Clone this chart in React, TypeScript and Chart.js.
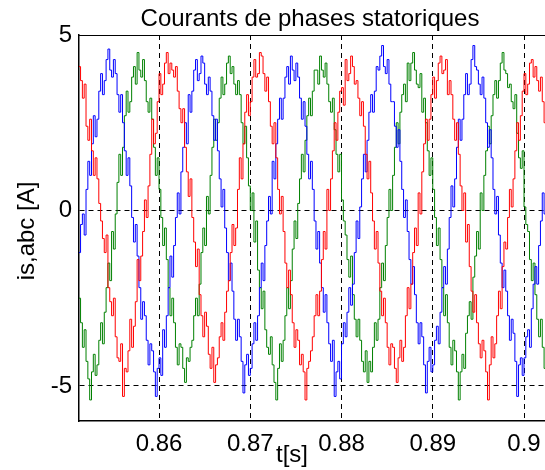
import { useEffect, useRef } from "react";
import { Chart, registerables } from "chart.js";

Chart.register(...registerables);

const TITLE = "Courants de phases statoriques";
const X_LABEL = "t[s]";
const Y_LABEL = "is,abc [A]";

const T_START = 0.8512;
const T_STEP = 0.0002;
const X_MIN = 0.85123;
const X_MAX = 0.9023;
const Y_MIN = -6;
const Y_MAX = 5;
const X_TICKS = [0.86, 0.87, 0.88, 0.89, 0.9];
const X_TICK_LABELS = ["0.86", "0.87", "0.88", "0.89", "0.9"];
const Y_TICKS = [-5, 0, 5];
const Y_TICK_LABELS = ["-5", "0", "5"];

// phase a (red)
const IS_A = [
  4.1, 3.7, 3.2, 3.6, 2.4, 2.0, 2.6, 1.7, 1.0, 1.5,
  0.9, 0.2, -0.3, -0.8, -1.2, -0.7, -2.2, -2.6, -3.0, -2.5,
  -3.6, -4.2, -4.3, -3.8, -5.3, -4.5, -4.6, -4.0, -3.1, -3.9,
  -3.3, -2.6, -1.4, -2.0, -1.3, -0.6, 0.3, -0.2, 0.7, 1.6,
  2.6, 1.9, 2.2, 3.1, 3.9, 3.3, 3.6, 4.2, 4.5, 3.9,
  4.2, 4.0, 3.8, 4.1, 3.4, 2.9, 2.5, 2.9, 1.8, 1.1,
  0.4, 0.9, -0.2, -0.9, -1.6, -1.1, -2.4, -3.0, -3.6, -2.9,
  -3.3, -4.1, -4.5, -3.9, -4.9, -4.4, -4.2, -3.6, -3.2, -3.7,
  -2.9, -2.3, -2.0, -1.2, -0.4, -1.0, -0.5, 0.6, 1.5, 0.9,
  1.9, 2.8, 3.3, 2.7, 3.1, 3.8, 4.3, 3.8, 3.9, 4.5,
  4.4, 3.9, 3.4, 3.8, 3.1, 2.4, 1.9, 2.5, 1.5, 0.6,
  -0.1, 0.4, -0.6, -1.5, -2.2, -1.7, -2.4, -3.2, -3.9, -3.4,
  -3.7, -4.4, -4.1, -4.6, -5.4, -4.5, -4.3, -4.0, -3.6, -3.0,
  -2.4, -3.0, -2.3, -1.4, -0.6, -1.1, 0.6, 0.0, 0.9, 1.7,
  2.5, 2.0, 2.8, 3.4, 3.5, 3.0, 4.3, 3.7, 3.9, 4.4,
  4.1, 3.6, 3.7, 3.2, 2.7, 3.1, 2.4, 1.6, 0.9, 1.4,
  0.5, -0.3, -1.1, -0.6, -1.5, -2.3, -3.0, -2.5, -3.2, -3.9,
  -4.4, -3.8, -3.9, -4.5, -4.9, -4.2, -3.7, -4.3, -3.9, -3.0,
  -2.2, -2.8, -2.1, -1.2, -0.5, -1.0, 0.5, -0.1, 1.1, 1.9,
  2.6, 2.0, 2.6, 3.3, 3.8, 3.2, 3.7, 4.2, 4.4, 3.9,
  4.0, 4.3, 3.3, 3.7, 3.3, 2.6, 2.0, 2.5, 1.6, 0.7,
  0.0, 0.5, -0.9, -0.4, -1.6, -2.3, -2.9, -2.4, -3.2, -3.8,
  -4.2, -3.7, -4.0, -4.6, -5.4, -4.4, -3.6, -4.2, -3.8, -3.0,
  -2.3, -2.8, -1.6, -0.9, -1.1, -0.2, 0.6, 0.1, 0.9, 1.7,
  2.5, 2.0, 2.7, 3.4, 3.9, 3.3, 3.6, 4.2, 4.3, 3.8,
  4.1, 3.7, 3.4, 3.8, 3.1, 2.5, 2.0,
];

// phase b (blue)
const IS_B = [
  -1.2, -0.4, -0.1, -0.7, 0.6, 1.4, 1.0, 1.9, 2.7, 2.1,
  2.6, 3.4, 3.9, 3.3, 3.7, 4.3, 4.6, 4.0, 3.8, 4.3,
  3.9, 3.3, 2.8, 3.3, 2.5, 1.7, 1.0, 1.5, 0.7, -0.2,
  -0.9, -0.4, -1.3, -2.2, -3.1, -2.6, -3.0, -3.7, -4.4, -3.8,
  -4.0, -4.6, -5.3, -4.5, -4.2, -4.7, -3.4, -3.9, -3.0, -2.2,
  -1.3, -1.9, -1.0, -0.2, 0.5, -0.1, 1.1, 1.8, 2.5, 1.9,
  3.3, 2.8, 3.4, 4.0, 4.3, 3.7, 3.9, 4.4, 4.2, 3.6,
  3.3, 3.8, 3.4, 2.7, 2.0, 2.6, 1.7, 0.9, 0.1, 0.6,
  -0.5, -1.2, -2.0, -1.5, -2.3, -3.1, -3.7, -3.1, -3.6, -4.3,
  -5.2, -4.4, -4.1, -4.7, -4.5, -3.8, -3.2, -3.7, -3.0, -2.2,
  -1.5, -2.0, -1.0, -0.3, 0.4, -0.1, 1.4, 0.9, 1.9, 2.6,
  3.2, 2.6, 3.2, 3.8, 4.1, 3.6, 4.4, 4.0, 3.7, 4.2,
  3.8, 3.2, 2.6, 3.1, 2.4, 1.6, 0.9, 1.4, 0.6, -0.3,
  -1.1, -0.6, -1.5, -2.2, -2.9, -2.4, -3.2, -3.8, -4.3, -3.7,
  -5.3, -4.6, -4.3, -4.8, -3.8, -3.2, -3.6, -2.9, -2.2, -2.7,
  -2.1, -1.2, -0.3, -0.8, 0.1, 0.9, 1.6, 1.1, 2.0, 2.8,
  3.3, 2.8, 3.4, 4.1, 4.0, 4.4, 4.7, 4.1, 3.9, 4.3,
  3.6, 3.1, 3.1, 2.4, 1.8, 2.3, 1.4, 0.6, -0.2, 0.3,
  -0.6, -1.4, -2.1, -1.6, -2.4, -3.2, -3.8, -3.2, -3.6, -4.4,
  -5.2, -4.3, -3.9, -4.6, -4.4, -3.7, -3.3, -3.8, -2.9, -2.2,
  -1.6, -2.1, -1.1, -0.2, 0.7, 0.1, 0.9, 1.8, 2.6, 2.0,
  2.6, 3.3, 3.9, 3.3, 3.6, 4.3, 4.7, 4.1, 4.0, 3.6,
  3.3, 3.8, 3.2, 2.5, 1.8, 2.3, 1.5, 0.6, -0.1, 0.4,
  -0.7, -1.5, -2.2, -1.7, -2.3, -3.0, -3.7, -3.1, -3.5, -4.3,
  -5.3, -4.4, -4.2, -4.7, -4.2, -3.6, -3.4, -3.9, -2.8, -2.1,
  -1.6, -2.1, -1.0, -0.3, 0.5, -0.1, 1.2,
];

// phase c (green)
const IS_C = [
  -2.5, -3.2, -3.9, -3.4, -4.3, -4.8, -5.4, -4.6, -4.1, -4.7,
  -4.4, -3.7, -3.2, -3.8, -2.9, -2.2, -1.5, -2.0, -0.6, -1.1,
  -0.1, 0.8, 1.6, 1.0, 1.8, 2.7, 3.4, 2.8, 3.1, 3.8,
  4.1, 3.6, 4.5, 4.0, 3.8, 4.3, 3.7, 3.1, 2.8, 3.2,
  2.6, 1.8, 1.0, 1.5, 0.6, -0.2, -1.0, -0.5, -1.4, -2.2,
  -3.0, -2.5, -3.2, -3.9, -4.4, -3.8, -3.9, -4.5, -4.9, -4.2,
  -4.3, -3.9, -3.7, -3.0, -2.5, -3.0, -2.1, -1.2, -0.5, -1.0,
  0.4, -0.1, 1.0, 1.8, 2.6, 2.0, 2.5, 3.2, 3.8, 3.3,
  3.6, 4.2, 4.4, 3.9, 4.1, 3.6, 3.3, 3.7, 3.3, 2.5,
  1.9, 2.4, 1.5, 0.7, 0.0, 0.5, -0.9, -0.3, -1.7, -2.2,
  -2.8, -2.3, -3.4, -3.9, -4.1, -3.6, -4.4, -4.9, -5.4, -4.5,
  -3.8, -4.3, -3.7, -3.0, -2.2, -2.8, -2.0, -1.1, -0.3, -0.8,
  0.2, 0.9, 1.6, 1.1, 2.0, 2.7, 3.2, 2.7, 3.4, 4.0,
  4.0, 3.6, 4.4, 4.0, 3.8, 4.2, 3.6, 3.1, 2.8, 3.2,
  2.3, 1.6, 1.1, 1.6, 0.3, -0.3, -0.7, -1.4, -1.9, -1.3,
  -2.4, -3.1, -3.6, -3.1, -3.7, -4.3, -4.6, -4.0, -4.9, -4.3,
  -4.6, -3.9, -3.2, -3.7, -3.1, -2.2, -1.5, -2.0, -1.0, -0.2,
  0.6, 0.0, 1.0, 1.8, 2.5, 1.9, 2.8, 3.3, 3.6, 3.1,
  4.2, 3.7, 4.2, 4.5, 4.0, 3.6, 3.5, 3.9, 2.8, 3.2,
  2.5, 1.7, 1.0, 1.5, 0.6, -0.2, -1.0, -0.5, -1.4, -2.2,
  -3.0, -2.4, -3.2, -3.9, -4.4, -3.7, -4.0, -4.6, -5.4, -4.6,
  -4.1, -4.5, -3.5, -3.0, -2.6, -3.1, -1.9, -1.3, -0.6, -1.1,
  0.5, 0.0, 1.0, 1.7, 2.4, 1.9, 2.7, 3.3, 3.7, 3.2,
  3.7, 4.2, 4.5, 4.0, 3.9, 3.5, 3.6, 3.1, 2.9, 3.3,
  2.2, 1.5, 1.2, 1.7, 0.1, -0.4, -0.6, -1.4, -2.0, -1.5,
  -2.4, -3.1, -3.6, -3.1, -3.9, -4.5, -4.4,
];

const FONT = '"Liberation Sans", Arial, Helvetica, sans-serif';

const toPoints = (vals: number[]) =>
  vals.map((y, i) => ({ x: T_START + i * T_STEP, y }));

const decorPlugin = {
  id: "decor",
  afterDraw(chart: any) {
    const { ctx, chartArea: a } = chart;
    ctx.save();
    ctx.strokeStyle = "#000";
    ctx.lineWidth = 1;
    ctx.beginPath();
    ctx.moveTo(a.left, a.top + 0.5);
    ctx.lineTo(a.right, a.top + 0.5);
    ctx.stroke();
    ctx.fillStyle = "#000";
    ctx.font = `24px ${FONT}`;
    ctx.textAlign = "center";
    ctx.textBaseline = "alphabetic";
    ctx.fillText(TITLE, 310, 26);
    ctx.fillText(X_LABEL, 292, 462);
    ctx.translate(34, 231);
    ctx.rotate(-Math.PI / 2);
    ctx.fillText(Y_LABEL, 0, 0);
    ctx.restore();
  },
};

export default function App() {
  const ref = useRef<HTMLCanvasElement | null>(null);

  useEffect(() => {
    if (!ref.current) return;
    const mk = (label: string, data: number[], color: string) => ({
      label,
      data: toPoints(data),
      borderColor: color,
      backgroundColor: color,
      borderWidth: 1,
      pointRadius: 0,
      stepped: true,
      fill: false,
    });
    const chart = new Chart(ref.current, {
      type: "line",
      data: {
        datasets: [
          mk("isa", IS_A, "#ff0000"),
          mk("isb", IS_B, "#0000ff"),
          mk("isc", IS_C, "#008000"),
        ],
      },
      options: {
        responsive: false,
        animation: false,
        devicePixelRatio: 1,
        layout: { padding: { top: 35, left: 0, right: 0, bottom: 0 } },
        plugins: {
          legend: { display: false },
          title: { display: false },
          tooltip: { enabled: false },
        },
        scales: {
          x: {
            type: "linear",
            min: X_MIN,
            max: X_MAX,
            afterBuildTicks: (s: any) => {
              s.ticks = X_TICKS.map((v) => ({ value: v }));
            },
            afterFit: (s: any) => {
              s.height = 49;
              s.paddingLeft = 0;
              s.paddingRight = 0;
            },
            ticks: {
              autoSkip: false,
              maxRotation: 0,
              padding: 9,
              color: "#000",
              font: { family: FONT, size: 24 },
              callback: (v: any) => {
                const i = X_TICKS.findIndex((t) => Math.abs(t - v) < 1e-9);
                return i >= 0 ? X_TICK_LABELS[i] : "";
              },
            },
            grid: {
              color: "#000",
              lineWidth: 1,
              drawTicks: false,
            },
            border: { display: true, color: "#000", width: 1.5, dash: [5, 4] },
          },
          y: {
            type: "linear",
            min: Y_MIN,
            max: Y_MAX,
            afterBuildTicks: (s: any) => {
              s.ticks = Y_TICKS.map((v) => ({ value: v }));
            },
            afterFit: (s: any) => {
              s.width = 79;
              s.paddingTop = 0;
              s.paddingBottom = 0;
            },
            ticks: {
              padding: 7,
              color: "#000",
              font: { family: FONT, size: 24 },
              callback: (v: any) => {
                const i = Y_TICKS.findIndex((t) => Math.abs(t - v) < 1e-9);
                return i >= 0 ? Y_TICK_LABELS[i] : "";
              },
            },
            grid: {
              color: "#000",
              lineWidth: 1,
              drawTicks: false,
            },
            border: { display: true, color: "#000", width: 1.5, dash: [5, 4] },
          },
        },
      },
      plugins: [decorPlugin],
    });
    return () => chart.destroy();
  }, []);

  return (
    <div style={{ position: "fixed", left: 0, top: 0, width: 545, height: 470, background: "#fff" }}>
      <canvas ref={ref} width={545} height={470} style={{ display: "block" }} />
    </div>
  );
}
